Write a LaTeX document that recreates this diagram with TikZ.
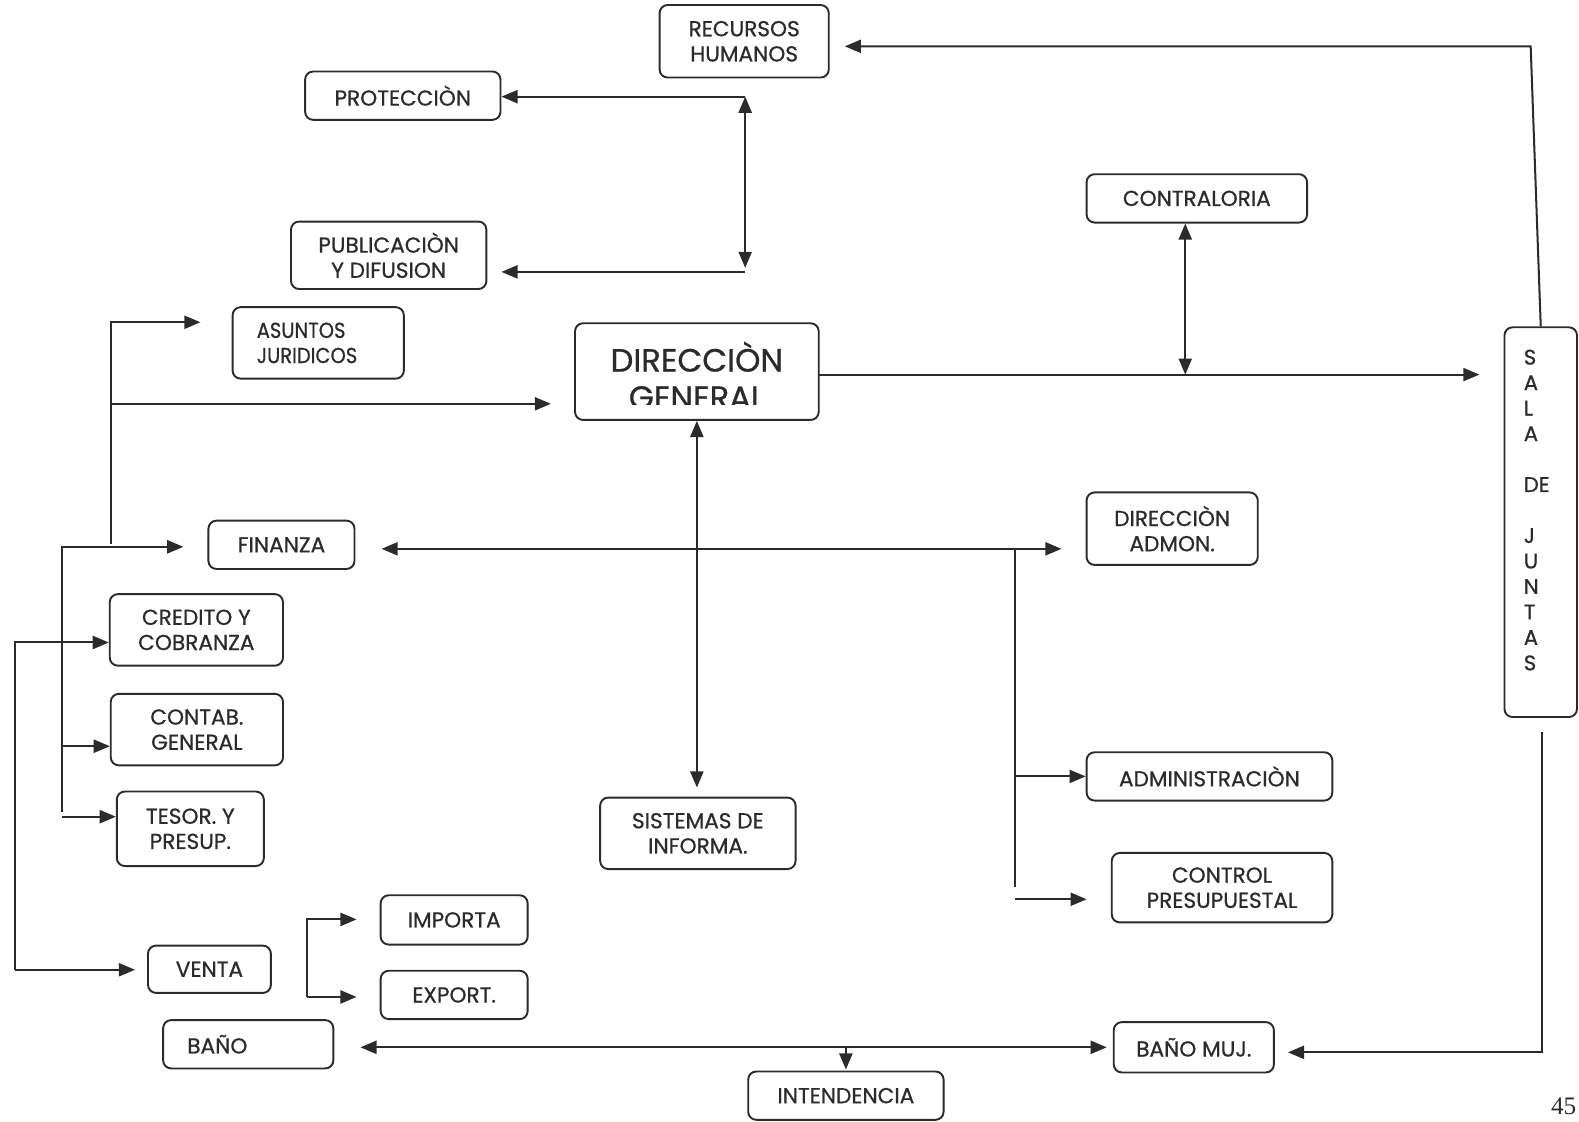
\documentclass[tikz,border=0pt]{standalone}
\usepackage{fontspec}
\setmainfont{Poppins}[FakeBold=0.7]
\newfontfamily\condfont{Poppins}[FakeStretch=0.9, FakeBold=0.7]
\newfontfamily\pagenumfont{Liberation Serif}
\usetikzlibrary{arrows.meta}
\definecolor{ink}{gray}{0.17}

\begin{document}
\begin{tikzpicture}[x=1pt,y=-1pt,
  box/.style={draw=ink, line width=1.9pt, rounded corners=8pt, align=center,
    inner sep=0pt, text=ink, font=\fontsize{21.5}{25}\selectfont},
  sz/.style 2 args={minimum width=#1pt, minimum height=#2pt},
  link/.style={draw=ink, line width=2pt},
  arr/.style={link, -{Triangle[length=16pt,width=13pt]}},
  dbl/.style={link, {Triangle[length=16pt,width=13pt]}-{Triangle[length=16pt,width=13pt]}},
  label/.style={text=ink, inner sep=0pt},
]
\useasboundingbox[fill=white] (0,0) rectangle (1568,1114);

% ---- boxes ----
\node[box, sz={168}{72}] (rh) at (739,41) {RECURSOS\\HUMANOS};
\node[box, sz={194}{48}] (prot) at (400,95) {PROTECCIÒN};
\node[box, sz={194}{67}] (pub) at (386,253.5) {PUBLICACIÒN\\Y DIFUSION};
\node[box, sz={219}{48}] (contra) at (1188.5,197) {CONTRALORIA};
\node[box, sz={170}{71}, text width=122pt, inner xsep=24pt, align=left,
  font=\condfont\fontsize{21.5}{25}\selectfont] (asj) at (316,340.5) {ASUNTOS\\JURIDICOS};
\node[box, sz={242}{96}] (dg) at (692,369) {};
\node[box, sz={72}{387}] (sala) at (1530,518.5) {};
\node[box, sz={145}{48}] (fin) at (279.5,541) {FINANZA};
\node[box, sz={170}{72}] (dadm) at (1164,525) {DIRECCIÒN\\ADMON.};
\node[box, sz={172}{71}] (cred) at (195,625.5) {CREDITO Y\\COBRANZA};
\node[box, sz={171}{71}] (contab) at (195.5,724.5) {CONTAB.\\GENERAL};
\node[box, sz={146}{74}] (tesor) at (189,823) {TESOR. Y\\PRESUP.};
\node[box, sz={194}{71}] (sist) at (693,827.5) {SISTEMAS DE\\INFORMA.};
\node[box, sz={244}{48}] (adm) at (1201,771) {ADMINISTRACIÒN};
\node[box, sz={219}{69}] (ctrl) at (1213.5,881.5) {CONTROL\\PRESUPUESTAL};
\node[box, sz={146}{49}] (imp) at (451,913.5) {IMPORTA};
\node[box, sz={146}{48}] (exp) at (451,988) {EXPORT.};
\node[box, sz={122}{47}] (venta) at (208,962.5) {VENTA};
\node[box, sz={169}{48}, text width=121pt, inner xsep=24pt, align=left] (bano) at (246.5,1037) {BAÑO};
\node[box, sz={159}{50}] (bmuj) at (1185.5,1040) {BAÑO MUJ.};
\node[box, sz={194}{48}] (int) at (840,1088) {INTENDENCIA};

% title of the central box, its second line cut by the frame
\begin{scope}
  \clip (dg.north west) rectangle (dg.east |- {(0,402)});
  \node[label, anchor=base, font=\fontsize{32}{37}\selectfont] (dgl1) at (692,369) {DIRECCIÒN};
  \node[label, anchor=base, font=\fontsize{32}{37}\selectfont] (dgl2) at (692,406) {GENERAL};
\end{scope}

% vertical lettering of the meeting room
\node[label, align=left, anchor=north west,
  font=\fontsize{21}{25.3}\selectfont] (salatxt) at (1513,347)
  {S\\A\\L\\A\\[25.3pt]DE\\[25.3pt]J\\U\\N\\T\\A\\S};

% ---- connectors ----
% Sala de juntas up to Recursos Humanos
\coordinate (rhbend) at (1520,46);
\draw[arr, shorten >=15pt] (sala.north) -- (rhbend) -- (rh.east |- rhbend);

% Proteccion / Publicacion
\coordinate (pp1) at (740,96);
\coordinate (pp2) at (740,270);
\draw[arr] (pp1) -- (prot.east |- pp1);
\draw[arr, shorten >=14pt] (pp2) -- (pub.east |- pp2);
\draw[dbl] (pp1) -- ([yshift=4pt]pp2);

% Contraloria
\coordinate (ct) at (1177,372);
\draw[dbl] (ct |- contra.south) -- (ct);

% Direccion General to Sala de juntas
\coordinate (dgs) at (813,372);
\draw[arr, shorten >=24pt] (dgs) -- (dgs -| sala.west);

% Direccion General / Sistemas
\draw[dbl, shorten >=9pt] (dg.south) -- (dg.south |- sist.north);

% left branch to Asuntos Juridicos and Direccion General
\coordinate (t1a) at (110,320);
\coordinate (t1b) at (110,540);
\coordinate (t1c) at (110,401);
\draw[arr, shorten >=31pt] (t1b) -- (t1a) -- (t1a -| asj.west);
\draw[arr, shorten >=23pt] (t1c) -- (t1c -| dg.west);

% finance branch
\coordinate (t2a) at (62,543);
\coordinate (t2b) at (62,806);
\coordinate (t2c) at (62,741);
\coordinate (t2d) at (62,811);
\draw[arr, shorten >=24pt] (t2b) -- (t2a) -- (t2a -| fin.west);
\draw[arr] (t2c) -- (t2c -| contab.west);
\draw[arr] (t2d) -- (t2d -| tesor.west);

% outer branch to Credito and Venta
\coordinate (oa) at (15,638);
\coordinate (ob) at (15,963);
\draw[arr] (ob) -- (oa) -- (oa -| cred.west);
\draw[arr, shorten >=12pt] (ob) -- (ob -| venta.west);

% Importa / Export
\coordinate (ie1) at (305,913);
\coordinate (ie2) at (305,990);
\draw[arr, shorten >=23pt] (ie2) -- (ie1) -- (ie1 -| imp.west);
\draw[arr, shorten >=23pt] (ie2) -- (ie2 -| exp.west);

% Finanza / Direccion Admon and its branch
\coordinate (fa) at (1008,545);
\coordinate (fb) at (1008,881);
\coordinate (fc) at (1008,771);
\coordinate (fd) at (1008,893);
\draw[dbl, shorten <=26pt, shorten >=24pt] (fin.east |- fa) -- (dadm.west |- fa);
\draw[link] (fa) -- (fb);
\draw[arr] (fc) -- (adm.west |- fc);
\draw[arr, shorten >=24pt] (fd) -- (ctrl.west |- fd);

% Bano / Bano Muj / Intendencia
\coordinate (bl) at (840,1040);
\draw[dbl, shorten <=26pt, shorten >=6pt] (bano.east |- bl) -- (bmuj.west |- bl);
\draw[arr, shorten >=1pt] (bl) -- (int.north);

% Sala de juntas down to Bano Muj
\coordinate (sb1) at (1531,727);
\coordinate (sb2) at (1531,1045);
\draw[arr, shorten >=13pt] (sb1) -- (sb2) -- (bmuj.east |- sb2);

% page number
\node[label, anchor=base west, font=\pagenumfont\fontsize{25}{25}\selectfont] (pagenum) at (1540,1107) {45};
\end{tikzpicture}
\end{document}
